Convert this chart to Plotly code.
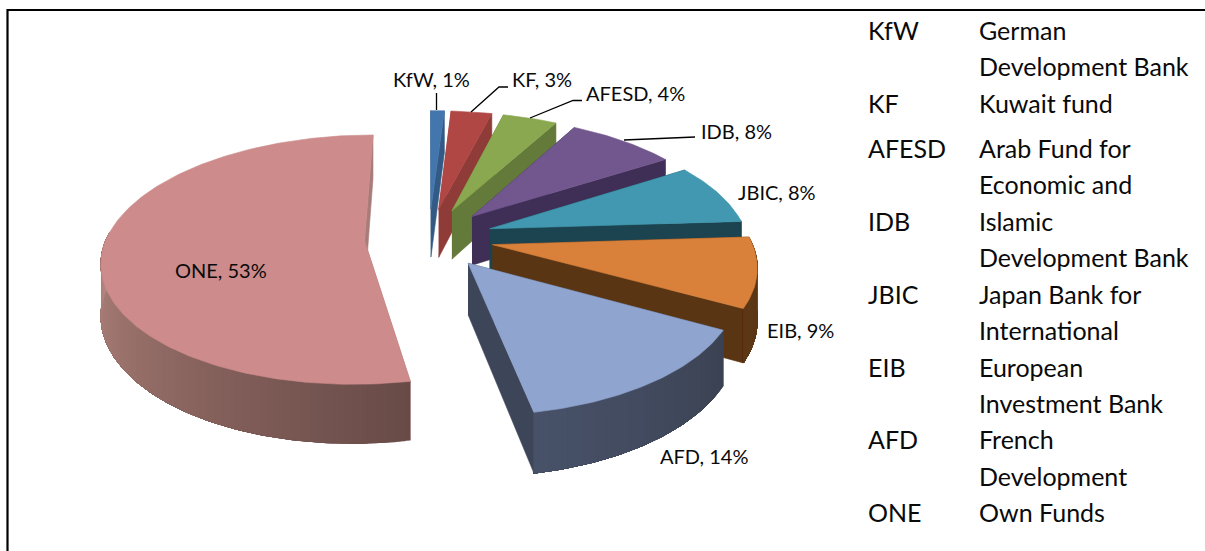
import numpy as np
import plotly.graph_objects as go

# ---- data ----
categories = ["KfW", "KF", "AFESD", "IDB", "JBIC", "EIB", "AFD", "ONE"]
shares = [1, 3, 4, 8, 8, 9, 14, 53]
glossary_codes = ["KfW", "", "KF", "AFESD", "", "IDB", "", "JBIC", "", "EIB", "", "AFD", "", "ONE"]
glossary_names = ["German", "Development Bank", "Kuwait fund", "Arab Fund for", "Economic and",
                  "Islamic", "Development Bank", "Japan Bank for", "International", "European",
                  "Investment Bank", "French", "Development", "Own Funds"]

# ---- style ----
top_colors = ["#4476AE", "#B04744", "#8AA84F", "#72578F", "#4198B0", "#D9813B", "#8FA5CF", "#CD8B8B"]
side_colors = ["#335A85", "#8F3B38", "#647A3A", "#3F2E55", "#1C4450", "#5A3514", "#3D4558", "#A87C7A"]
wall_first = ["#335A85", "#8F3B38", "#647A3A", "#3F2E55", "#1C4450", "#5A3514", "#3B4252", "#684A47"]
wall_last = ["#335A85", "#8F3B38", "#647A3A", "#3F2E55", "#1C4450", "#5E3816", "#475168", "#B5877F"]
draw_order = [0, 1, 2, 3, 4, 5, 7, 6]

# ---- projection of the exploded disc ----
CX, CY, RX, RY, PERSP, EXPLODE, DEPTH = 429.0, 238.0, 258.0, 121.0, 0.15, 0.25, 50.0


def project(u, v, lower=False):
    k = 1.0 / (1.0 - PERSP * v)
    return CX + RX * u * k, CY + RY * v * k + (DEPTH * k if lower else 0.0)


def mix(c1, c2, t):
    a = [int(c1[i:i + 2], 16) for i in (1, 3, 5)]
    b = [int(c2[i:i + 2], 16) for i in (1, 3, 5)]
    return "rgb(%d,%d,%d)" % tuple(round(p + (q - p) * t) for p, q in zip(a, b))


def poly(fig, x, y, color, width=0.6):
    fig.add_trace(go.Scatter(x=list(x), y=list(y), mode="lines", fill="toself", fillcolor=color,
                             line=dict(color=color, width=width), hoverinfo="skip", showlegend=False))


fig = go.Figure()
edges = np.cumsum([0] + shares) / sum(shares) * 2 * np.pi

for i in draw_order:
    a0, a1 = edges[i], edges[i + 1]
    mid = (a0 + a1) / 2
    au, av = EXPLODE * np.sin(mid), -EXPLODE * np.cos(mid)
    th = np.linspace(a0, a1, max(8, int(shares[i] * 4)))
    us, vs = au + np.sin(th), av - np.cos(th)
    # radial walls
    for t in (a0, a1):
        eu, ev = au + np.sin(t), av - np.cos(t)
        p = [project(au, av), project(eu, ev), project(eu, ev, True), project(au, av, True)]
        poly(fig, [q[0] for q in p], [q[1] for q in p], side_colors[i])
    # outer wall (only the part facing the viewer): overlapping strips, so no seams show
    front = -np.cos(th) > -0.08
    if front.sum() >= 2:
        topx, topy = project(us[front], vs[front])
        botx, boty = project(us[front], vs[front], True)
        n_strips = 1 if wall_first[i] == wall_last[i] else 64
        for s in range(n_strips):
            j = int(s * (front.sum() - 1) / n_strips)
            poly(fig, np.r_[topx[j:], botx[j:][::-1]], np.r_[topy[j:], boty[j:][::-1]],
                 mix(wall_first[i], wall_last[i], s / max(n_strips - 1, 1)), width=0.4)
    # top face
    tx, ty = project(np.r_[au, us, au], np.r_[av, vs, av])
    poly(fig, tx, ty, top_colors[i])

# ---- labels ----
label_pos = [(391, 79), (510, 79), (584, 93), (699, 131), (736, 192), (765, 330), (658, 456), (173, 270)]
annotations = []
for name, val, (lx, ly) in zip(categories, shares, label_pos):
    annotations.append(dict(x=lx, y=ly, xref="x", yref="y", text=f"{name}, {val}%", showarrow=False,
                            xanchor="left", yanchor="middle", font=dict(family="Lato", size=20, color="#0A0A0A")))

row_y = [30, 66, 103, 148, 184, 221, 257, 294, 330, 367, 403, 439, 476, 512]
for code, nm, y in zip(glossary_codes, glossary_names, row_y):
    if code:
        annotations.append(dict(x=866, y=y, xref="x", yref="y", text=code, showarrow=False, xanchor="left",
                                yanchor="middle", font=dict(family="Lato", size=25, color="#0A0A0A")))
    annotations.append(dict(x=977, y=y, xref="x", yref="y", text=nm, showarrow=False, xanchor="left",
                            yanchor="middle", font=dict(family="Lato", size=25, color="#0A0A0A")))

# ---- leader lines and frame ----
leaders = ["M436.5 93 L436.5 110", "M471 112 L499 87 L508 87", "M530 118 L573 100.5 L582 100.5", "M624 140 L695 137"]
shapes = [dict(type="path", path=p, xref="x", yref="y", line=dict(color="black", width=1.3)) for p in leaders]
shapes.append(dict(type="path", path="M7.5 551 L7.5 10 L1205 10", xref="x", yref="y", line=dict(color="black", width=2.2)))

fig.update_layout(width=1205, height=551, margin=dict(l=0, r=0, t=0, b=0), paper_bgcolor="white",
                  plot_bgcolor="white", showlegend=False, annotations=annotations, shapes=shapes,
                  xaxis=dict(range=[0, 1205], visible=False, fixedrange=True),
                  yaxis=dict(range=[551, 0], visible=False, fixedrange=True))
fig.write_html("out.html", config=dict(displayModeBar=False),
               post_script="document.body.style.margin='0';document.documentElement.style.overflow='hidden';")
